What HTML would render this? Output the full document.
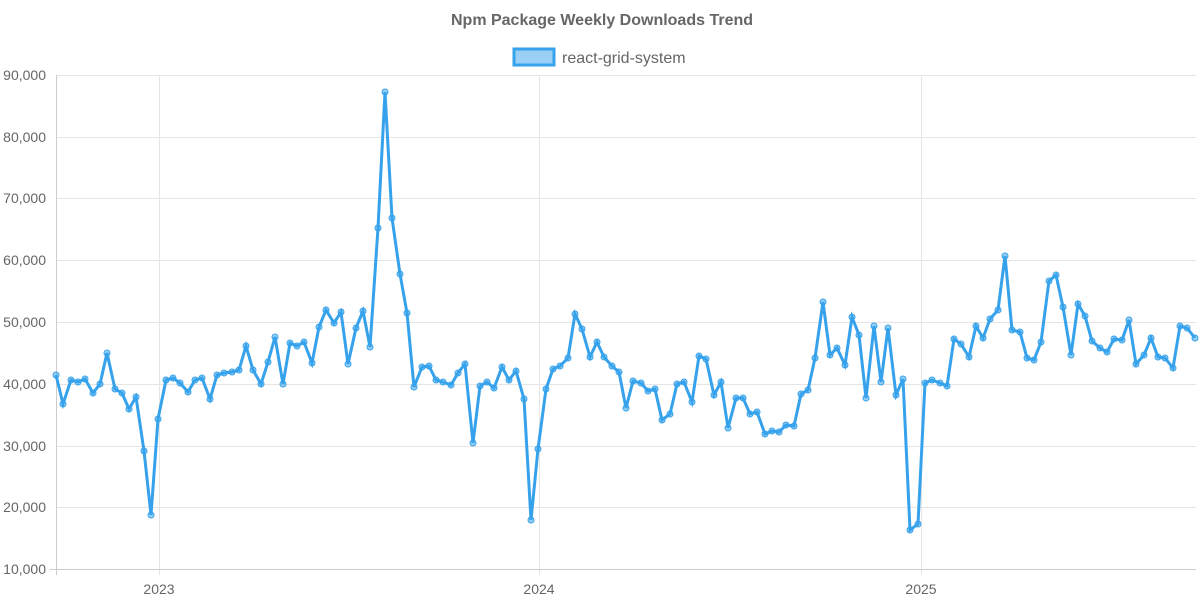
<!DOCTYPE html>
<html><head><style>body{margin:0;background:#fff}svg{display:block}text{font-family:"Liberation Sans",sans-serif;fill:#666}</style></head>
<body>
<svg width="1200" height="600" xmlns="http://www.w3.org/2000/svg">
<text x="602" y="25" font-size="16" font-weight="bold" text-anchor="middle">Npm Package Weekly Downloads Trend</text>
<rect x="514" y="49" width="40" height="16" fill="rgba(54,162,235,0.5)" stroke="#36a2eb" stroke-width="3"/>
<text x="562" y="63" font-size="16">react-grid-system</text>
<g stroke="#e5e5e5" stroke-width="1">
<line x1="56" x2="1196" y1="75.5" y2="75.5"/><line x1="56" x2="1196" y1="137.5" y2="137.5"/><line x1="56" x2="1196" y1="198.5" y2="198.5"/><line x1="56" x2="1196" y1="260.5" y2="260.5"/><line x1="56" x2="1196" y1="322.5" y2="322.5"/><line x1="56" x2="1196" y1="384.5" y2="384.5"/><line x1="56" x2="1196" y1="446.5" y2="446.5"/><line x1="56" x2="1196" y1="507.5" y2="507.5"/>
<line x1="159.5" x2="159.5" y1="75" y2="575"/><line x1="539.5" x2="539.5" y1="75" y2="575"/><line x1="921.5" x2="921.5" y1="75" y2="575"/>
</g>
<line x1="56.5" x2="56.5" y1="75" y2="575" stroke="#ccc"/>
<line x1="50" x2="1196" y1="569.5" y2="569.5" stroke="#ccc"/>
<g font-size="14" text-anchor="end">
<text x="46" y="80">90,000</text><text x="46" y="142">80,000</text><text x="46" y="203">70,000</text><text x="46" y="265">60,000</text><text x="46" y="327">50,000</text><text x="46" y="389">40,000</text><text x="46" y="451">30,000</text><text x="46" y="512">20,000</text><text x="46" y="574">10,000</text>
</g>
<g font-size="14" text-anchor="middle"><text x="159" y="594">2023</text><text x="539" y="594">2024</text><text x="921" y="594">2025</text></g>
<polyline id="p" fill="none" stroke="#36a2eb" stroke-width="3" stroke-linejoin="miter" points="56,375 63,404 71,380 78,382 85,379 93,393 100,384 107,353 115,389 122,393 129,409 136,397 144,451 151,515 158,419 166,380 173,378 180,383 188,392 195,380 202,378 210,399 217,375 224,373 232,372 239,370 246,346 253,370 261,384 268,362 275,337 283,384 290,343 297,346 304,342 312,363 319,327 326,310 334,323 341,312 348,364 356,328 363,311 370,347 378,228 385,92 392,218 400,274 407,313 414,387 422,367 429,366 436,380 443,382 451,385 458,373 465,364 473,443 480,386 487,382 494,388 502,367 509,380 516,371 524,399 531,520 538,449 546,389 553,369 560,366 568,358 575,314 582,329 590,357 597,342 604,357 612,366 619,372 626,408 633,381 641,383 648,391 655,389 662,420 670,414 677,384 684,382 692,402 699,356 706,359 714,395 721,382 728,428 736,398 743,398 750,414 757,412 765,434 772,431 779,432 786,425 794,426 801,394 808,390 815,358 823,302 830,355 837,348 845,365 852,317 859,335 866,398 874,326 881,382 888,328 896,395 903,379 910,530 918,524 925,383 932,380 940,383 947,386 954,339 961,344 969,357 976,326 983,338 990,319 998,310 1005,256 1012,330 1020,332 1027,358 1034,360 1041,342 1049,281 1056,275 1063,307 1071,355 1078,304 1085,316 1092,341 1100,348 1107,352 1114,339 1122,340 1129,320 1136,364 1144,355 1151,338 1158,357 1165,358 1173,368 1180,326 1187,328 1195,338"/>
<g id="dots" fill="rgba(54,162,235,0.5)" stroke="#36a2eb" stroke-width="1"></g>
<script>
var pts=document.getElementById('p').getAttribute('points').trim().split(/\s+/),g=document.getElementById('dots');
pts.forEach(function(s){var a=s.split(',');var c=document.createElementNS('http://www.w3.org/2000/svg','circle');c.setAttribute('cx',a[0]);c.setAttribute('cy',a[1]);c.setAttribute('r','3');g.appendChild(c);});
</script>
</svg>
</body></html>
